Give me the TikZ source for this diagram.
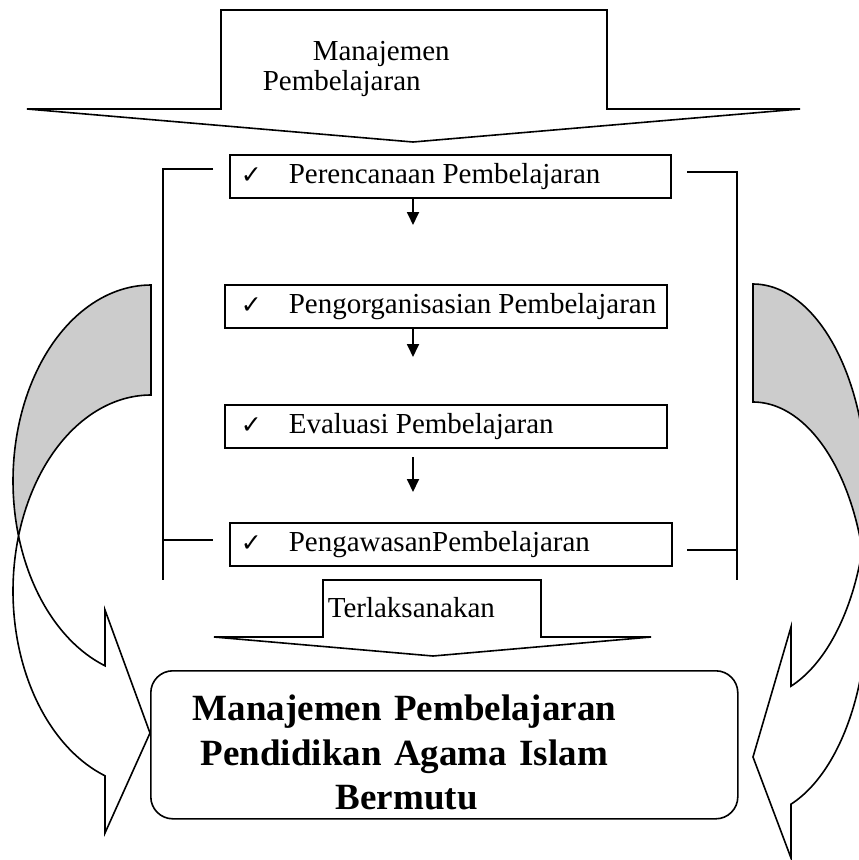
\documentclass[tikz,border=0pt]{standalone}
\usepackage{fontspec}
\setmainfont{Liberation Serif}
\newfontfamily\ckfont{DejaVu Sans}
\usetikzlibrary{arrows.meta}
\newcommand{\ckm}{\makebox[48pt][l]{\ckfont\fontsize{25}{25}\selectfont ✓}}
\begin{document}
\begin{tikzpicture}[x=1pt,y=-1pt,
  line width=1.6pt, line join=miter,
  normtext/.style={font=\fontsize{29}{33}\selectfont, inner sep=0pt},
  stepbox/.style={draw, rectangle, inner ysep=0pt, minimum height=43pt, anchor=north west, font=\fontsize{29}{33}\selectfont},
  arr/.style={-{Triangle[width=12pt,length=13pt]}, line width=1.8pt},
  backband/.style={draw, fill=black!20},
  frontband/.style={draw, fill=white},
  bigarrow/.style={draw, fill=white},
]
\useasboundingbox (0,0) rectangle (859,860);
\clip (0,0) rectangle (859,860);

% ---- left curved arrow ----
\path[backband] plot[domain=90:196.3, samples=60, variable=\t] ({151+138*cos(\t)},{481-196*sin(\t)})
  -- plot[domain=163.7:90, samples=60, variable=\t] ({151+138*cos(\t)},{591-196*sin(\t)}) -- cycle;
\path[frontband] plot[domain=196.3:250.53, samples=40, variable=\t] ({151+138*cos(\t)},{481-196*sin(\t)})
  -- (105,610) -- (150,733) -- (105,833) -- (105,775.8)
  -- plot[domain=250.53:163.7, samples=60, variable=\t] ({151+138*cos(\t)},{591-196*sin(\t)}) -- cycle;

% ---- right curved arrow ----
\path[backband] plot[domain=90:-16.56, samples=60, variable=\t] ({753+114*cos(\t)},{491-207*sin(\t)})
  -- plot[domain=16.56:90, samples=60, variable=\t] ({753+114*cos(\t)},{609-207*sin(\t)}) -- cycle;
\path[frontband] plot[domain=-16.56:-70.53, samples=40, variable=\t] ({753+114*cos(\t)},{491-207*sin(\t)})
  -- (791,627) -- (753,757) -- (791,858) -- (791,804.2)
  -- plot[domain=-70.53:16.56, samples=60, variable=\t] ({753+114*cos(\t)},{609-207*sin(\t)}) -- cycle;

% ---- top block arrow ----
\path[bigarrow] (221,10) -- (607,10) -- (607,109) -- (800,109) -- (413,142) -- (27,109) -- (221,109) -- cycle;
\node[normtext, anchor=base west] (t1) at (312,60) {Manajemen};
\node[normtext, anchor=base west] (t2) at (262,90) {Pembelajaran};

% ---- brackets ----
\draw (213,169) -- (163,169) -- (163,580);
\draw (163,540) -- (213,540);
\draw (687,172) -- (737,172) -- (737,580);
\draw (687,550) -- (737,550);

% ---- steps ----
\node[stepbox, inner xsep=11pt] (b1) at (229,154) {\makebox[419pt][l]{\ckm Perencanaan Pembelajaran}};
\node[stepbox, inner xsep=16pt] (b2) at (224,284) {\makebox[410pt][l]{\ckm Pengorganisasian Pembelajaran}};
\node[stepbox, inner xsep=16pt] (b3) at (224,404) {\makebox[410pt][l]{\ckm Evaluasi Pembelajaran}};
\node[stepbox, inner xsep=11pt] (b4) at (229,522) {\makebox[420pt][l]{\ckm PengawasanPembelajaran}};

\coordinate (a1) at (413,225);
\coordinate (a2) at (413,357);
\coordinate (a3s) at (413,457);
\coordinate (a3) at (413,492);
\draw[arr] (b1.south -| a1) -- (a1);
\draw[arr] (b2.south -| a2) -- (a2);
\draw[arr] (a3s) -- (a3);

% ---- Terlaksanakan block arrow ----
\path[bigarrow] (323,580) -- (541,580) -- (541,637) -- (651,637) -- (433,656) -- (214,637) -- (323,637) -- cycle;
\node[normtext, anchor=base west] (t3) at (327,617) {Terlaksanakan};

% ---- result box ----
\node[draw, rounded corners=22pt, anchor=north west, minimum width=587pt, minimum height=148pt,
      inner sep=0pt, align=left, text width=587pt, font=\fontsize{37}{44.5}\selectfont\bfseries] (res) at (150,670)
  {\rule{0pt}{41pt}\hspace*{42pt}Manajemen Pembelajaran\\
   \hspace*{50pt}Pendidikan Agama Islam\\
   \hspace*{185pt}Bermutu};
\end{tikzpicture}
\end{document}
